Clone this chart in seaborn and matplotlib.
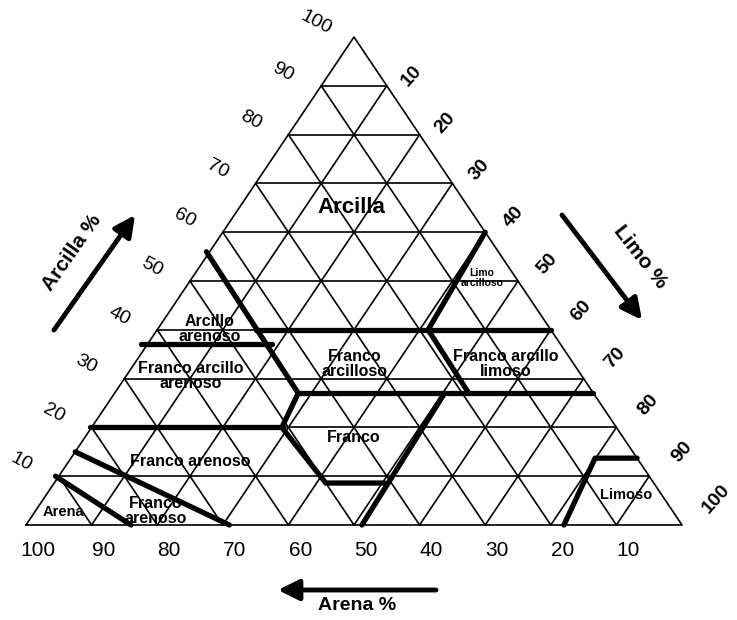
import matplotlib
matplotlib.use('Agg')
import matplotlib.pyplot as plt
import seaborn as sns
import pandas as pd

# marcas de la grilla y de los ejes (%)
TICKS = [10, 20, 30, 40, 50, 60, 70, 80, 90]
ARENA_LABELS = [100, 90, 80, 70, 60, 50, 40, 30, 20, 10]
ARCILLA_LABELS = [10, 20, 30, 40, 50, 60, 70, 80, 90, 100]
LIMO_LABELS = [10, 20, 30, 40, 50, 60, 70, 80, 90, 100]

# limites entre clases texturales, puntos (arena %, arcilla %)
LIM_ARENA = [(90.5, 10), (84, 0)]
LIM_ARENA_FRANCA = [(85, 15), (69, 0)]
LIM_FRANCO_ARENOSO = [(80.3, 20), (51, 20)]
LIM_FRANCO = [(44.5, 56), (45, 27), (51, 20), (50, 8.6), (41, 8.6)]
LIM_FRANCO_LIMOSO = [(48.8, 0), (22.7, 27)]
LIM_ARCILLA_27 = [(45, 27), (0, 27)]
LIM_ARCILLA_37 = [(64, 37), (44, 37)]
LIM_ARCILLA_40 = [(45, 40), (0, 40)]
LIM_ARCILLA_LIMOSA = [(0, 60), (18.7, 40), (19, 27)]
LIM_LIMOSO = [(18, 0), (6.4, 13.7), (0, 13.7)]

LIMITES = [LIM_ARENA, LIM_ARENA_FRANCA, LIM_FRANCO_ARENOSO, LIM_FRANCO,
           LIM_FRANCO_LIMOSO, LIM_ARCILLA_27, LIM_ARCILLA_37, LIM_ARCILLA_40,
           LIM_ARCILLA_LIMOSA, LIM_LIMOSO]

# nombres de las clases
CLASES = ["Arcilla", "Limo\narcilloso", "Arcillo\narenoso", "Franco arcillo\narenoso",
          "Franco\narcilloso", "Franco arcillo\nlimoso", "Franco", "Franco arenoso",
          "Arena", "Franco\narenoso", "Limoso"]

# geometria del triangulo en pixeles
L, R, B, T = 26, 682, 525, 37
SX = (R - L) / 100
SY = (B - T) / 100


def xy(arena, arcilla):
    limo = 100 - arena - arcilla
    return limo + arcilla / 2, arcilla


def px(x, y):
    # pixel (desde arriba) -> coordenadas de datos
    return (x - L) / SX, (B - y) / SY


sns.set_style('white')
plt.rcParams['font.family'] = ['Liberation Sans', 'DejaVu Sans']
plt.rcParams['text.color'] = 'black'

fig = plt.figure(figsize=(7.37, 6.20), dpi=100)
ax = fig.add_axes([0, 0, 1, 1])
ax.set_xlim(-L / SX, (737 - L) / SX)
ax.set_ylim((B - 620) / SY, B / SY)
ax.axis('off')

# grilla
filas = []
seg = 0
for k in TICKS:
    for a, b in [((100 - k, k), (0, k)),          # arcilla constante
                 ((k, 0), (k, 100 - k)),          # arena constante
                 ((100 - k, 0), (0, 100 - k))]:   # limo constante
        for p in (a, b):
            x, y = xy(*p)
            filas.append({'seg': seg, 'x': x, 'y': y})
        seg += 1
for p in [(100, 0), (0, 0), (0, 100), (100, 0)]:
    x, y = xy(*p)
    filas.append({'seg': seg, 'x': x, 'y': y})
grilla = pd.DataFrame(filas)
sns.lineplot(data=grilla, x='x', y='y', units='seg', estimator=None, sort=False,
             color='black', linewidth=1.2, legend=False, ax=ax)

# limites de clases
filas = []
for i, lim in enumerate(LIMITES):
    for p in lim:
        x, y = xy(*p)
        filas.append({'seg': i, 'x': x, 'y': y})
limites = pd.DataFrame(filas)
sns.lineplot(data=limites, x='x', y='y', units='seg', estimator=None, sort=False,
             color='black', linewidth=3.8, legend=False, ax=ax)
ax.set_xlabel('')
ax.set_ylabel('')

# etiquetas de clases
pos_clases = [(351, 207, 16), (482, 278, 7.5), (210, 329, 11.5), (191, 376, 11.5),
              (355, 364, 11.5), (506, 364, 11.5), (354, 437, 11.5), (190, 462, 11.5),
              (63, 512, 10.5), (156, 511, 11.5), (626, 495, 10.5)]
for nombre, (x, y, fs) in zip(CLASES, pos_clases):
    ax.text(*px(x, y), nombre, ha='center', va='center', fontsize=fs,
            fontweight='bold', linespacing=0.95, color='black')

# numeros de los ejes
for v in ARENA_LABELS:
    x, y = xy(v, 0)
    ax.text(x + 12 / SX, y - 26 / SY, str(v), ha='center', va='center',
            fontsize=15, color='black')
for v in ARCILLA_LABELS:
    x, y = xy(100 - v, v)
    ax.text(x - 38 / SX, y + 14 / SY, str(v), ha='center', va='center',
            fontsize=14, rotation=-28, color='black')
for v in LIMO_LABELS:
    x, y = xy(0, 100 - v)
    ax.text(x + (24 + 0.1 * v) / SX, y + (8 + 0.18 * v) / SY, str(v), ha='center',
            va='center', fontsize=14, fontweight='bold', rotation=48, color='black')

# flechas y titulos de ejes
flecha = dict(arrowstyle='-|>,head_length=0.7,head_width=0.35', lw=3.5,
              color='black', mutation_scale=18, shrinkA=0, shrinkB=0)
for cola, punta in [((54, 330), (135, 215)), ((562, 215), (642, 320)),
                    ((436, 590), (278, 590))]:
    ax.annotate('', xy=px(*punta), xytext=px(*cola), arrowprops=flecha)

ax.text(*px(72, 253), 'Arcilla %', ha='center', va='center', fontsize=15,
        fontweight='bold', rotation=55, color='black')
ax.text(*px(640, 257), 'Limo %', ha='center', va='center', fontsize=15,
        fontweight='bold', rotation=-52, color='black')
ax.text(*px(357, 606), 'Arena %', ha='center', va='center', fontsize=14,
        fontweight='bold', color='black')

fig.savefig('out.png', dpi=100)
